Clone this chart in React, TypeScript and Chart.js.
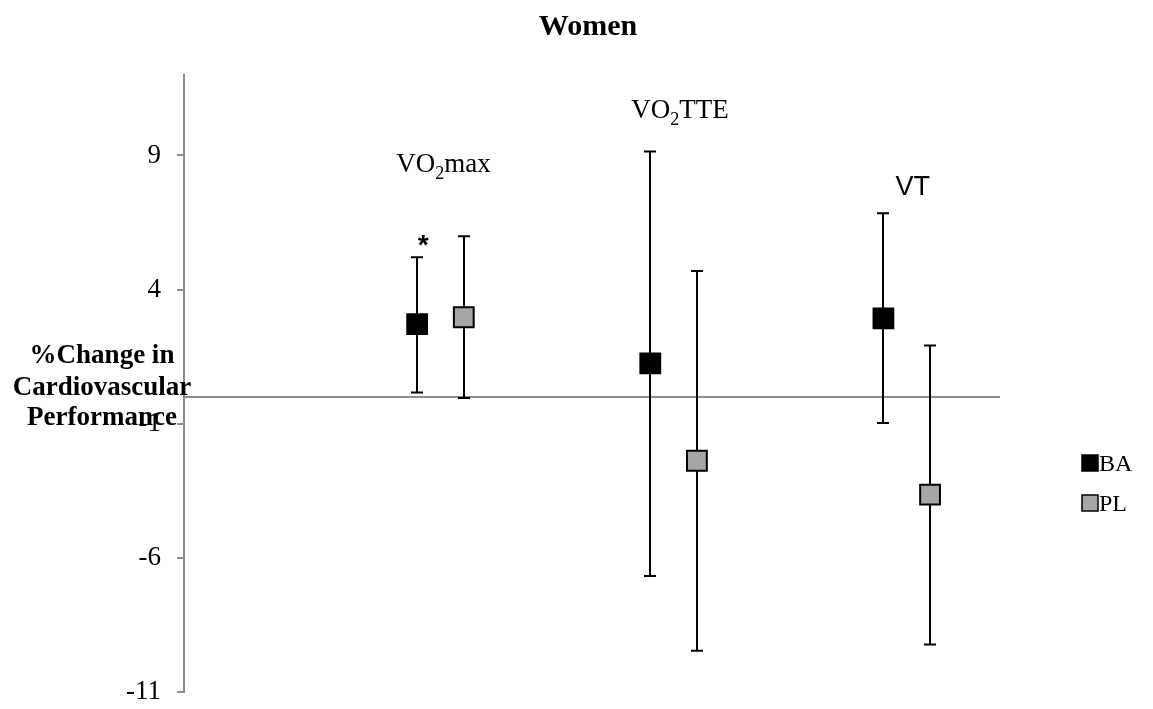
import React, { useEffect, useRef } from "react";
import { Chart, registerables } from "chart.js";
Chart.register(...registerables);

const CATEGORIES = ["VO2max", "VO2TTE", "VT"];
const GROUP_X = [1, 2, 3];
const PL_OFFSET = 0.2;
const BA_MEAN = [2.71, 1.25, 2.93];
const BA_HIGH = [5.21, 9.15, 6.85];
const BA_LOW = [0.16, -6.68, -0.97];
const PL_MEAN = [2.97, -2.38, -3.64];
const PL_HIGH = [5.99, 4.69, 1.92];
const PL_LOW = [-0.04, -9.46, -9.23];
const Y_TICKS = [-11, -6, -1, 4, 9];
const SERIES = ["BA", "PL"];
const COLORS = ["#000000", "#a6a6a6"];
const TITLE = "Women";
const Y_LABEL = ["%Change in", "Cardiovascular", "Performance"];

const SERIF = "'Liberation Serif', 'Times New Roman', serif";
const SANS = "'Liberation Sans', Arial, sans-serif";

const extrasPlugin = {
  id: "extras",
  beforeDatasetsDraw(chart: any) {
    const { ctx, chartArea, scales } = chart;
    const xs = scales.x;
    const ys = scales.y;
    ctx.save();
    const y0 = ys.getPixelForValue(0);
    ctx.strokeStyle = "#8c8c8c";
    ctx.lineWidth = 2;
    ctx.beginPath();
    ctx.moveTo(chartArea.left, y0);
    ctx.lineTo(chartArea.right, y0);
    ctx.stroke();
    const sets = [
      { off: 0, lo: BA_LOW, hi: BA_HIGH },
      { off: PL_OFFSET, lo: PL_LOW, hi: PL_HIGH },
    ];
    ctx.strokeStyle = "#000";
    ctx.lineWidth = 2;
    sets.forEach((s) => {
      GROUP_X.forEach((gx, i) => {
        const px = Math.round(xs.getPixelForValue(gx + s.off));
        const pl = ys.getPixelForValue(s.lo[i]);
        const ph = ys.getPixelForValue(s.hi[i]);
        ctx.beginPath();
        ctx.moveTo(px, pl);
        ctx.lineTo(px, ph);
        ctx.moveTo(px - 6, pl);
        ctx.lineTo(px + 6, pl);
        ctx.moveTo(px - 6, ph);
        ctx.lineTo(px + 6, ph);
        ctx.stroke();
      });
    });
    ctx.restore();
  },
  afterDraw(chart: any) {
    const { ctx, scales } = chart;
    const xs = scales.x;
    ctx.save();
    ctx.fillStyle = "#000";
    ctx.textBaseline = "alphabetic";
    ctx.font = `bold 30px ${SERIF}`;
    ctx.textAlign = "center";
    ctx.fillText(TITLE, 588, 35);
    ctx.font = `bold 27px ${SERIF}`;
    const yl = [363, 395, 425];
    Y_LABEL.forEach((t, i) => ctx.fillText(t, 102, yl[i]));
    ctx.textAlign = "left";
    const drawSub = (x: number, y: number, a: string, sub: string, b: string) => {
      ctx.font = `27px ${SERIF}`;
      ctx.fillText(a, x, y);
      let cx = x + ctx.measureText(a).width;
      ctx.font = `18px ${SERIF}`;
      ctx.fillText(sub, cx, y + 7);
      cx += ctx.measureText(sub).width;
      ctx.font = `27px ${SERIF}`;
      ctx.fillText(b, cx, y);
    };
    const b0 = xs.getPixelForValue(GROUP_X[0]);
    const b1 = xs.getPixelForValue(GROUP_X[1]);
    const b2 = xs.getPixelForValue(GROUP_X[2]);
    drawSub(b0 - 21, 172, "VO", "2", CATEGORIES[0].slice(3));
    drawSub(b1 - 19, 118, "VO", "2", CATEGORIES[1].slice(3));
    ctx.font = `27px ${SANS}`;
    ctx.fillText(CATEGORIES[2], b2 + 12, 195);
    ctx.font = `bold 28px ${SANS}`;
    ctx.textAlign = "center";
    ctx.fillText("*", b0 + 6, 254);
    ctx.textAlign = "left";
    ctx.font = `24px ${SERIF}`;
    const ly = [463, 503];
    SERIES.forEach((s, i) => {
      ctx.fillStyle = COLORS[i];
      ctx.fillRect(1082, ly[i] - 8, 16, 16);
      ctx.strokeStyle = "#000";
      ctx.lineWidth = 1.5;
      ctx.strokeRect(1082, ly[i] - 8, 16, 16);
      ctx.fillStyle = "#000";
      ctx.fillText(s, 1099, ly[i] + 8);
    });
    ctx.restore();
  },
};

export default function App() {
  const ref = useRef<HTMLCanvasElement>(null);
  useEffect(() => {
    document.body.style.margin = "0";
    if (!ref.current) return;
    const chart = new Chart(ref.current, {
      type: "scatter",
      data: {
        datasets: SERIES.map((name, si) => ({
          label: name,
          data: GROUP_X.map((gx, i) => ({
            x: gx + (si === 0 ? 0 : PL_OFFSET),
            y: si === 0 ? BA_MEAN[i] : PL_MEAN[i],
          })),
          pointStyle: "rect",
          pointRadius: 14,
          pointHoverRadius: 14,
          backgroundColor: COLORS[si],
          borderColor: "#000",
          borderWidth: 2,
          showLine: false,
        })),
      },
      plugins: [extrasPlugin],
      options: {
        animation: false,
        responsive: false,
        maintainAspectRatio: false,
        events: [],
        layout: { padding: { top: 75, right: 153, bottom: 17, left: 0 } },
        plugins: {
          legend: { display: false },
          title: { display: false },
          tooltip: { enabled: false },
        },
        scales: {
          x: { type: "linear", min: 0, max: 3.5, display: false },
          y: {
            type: "linear",
            min: -11,
            max: 12,
            afterBuildTicks: (scale: any) => {
              scale.ticks = Y_TICKS.map((v) => ({ value: v }));
            },
            afterFit: (scale: any) => {
              scale.width = 184;
              scale.paddingTop = 0;
              scale.paddingBottom = 0;
            },
            border: { display: true, color: "#8c8c8c", width: 2 },
            grid: {
              drawOnChartArea: false,
              drawTicks: true,
              tickLength: 7,
              color: "#8c8c8c",
              lineWidth: 2,
            },
            ticks: {
              color: "#000",
              padding: 16,
              font: { family: SERIF, size: 27 },
              callback: (v: any) => String(v),
            },
          },
        },
      },
    });
    return () => chart.destroy();
  }, []);
  return (
    <div style={{ width: 1153, height: 709, overflow: "hidden" }}>
      <canvas ref={ref} width={1153} height={709} style={{ display: "block" }} />
    </div>
  );
}
